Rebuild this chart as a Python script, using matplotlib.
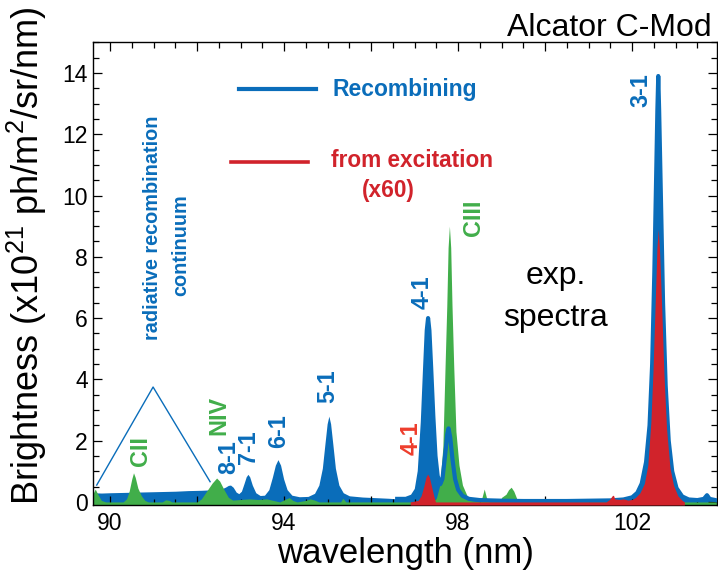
import matplotlib
matplotlib.use("Agg")
import matplotlib.pyplot as plt
from matplotlib.lines import Line2D
from matplotlib.ticker import MultipleLocator, FuncFormatter
import numpy as np

plt.rcParams['font.family'] = ['Liberation Sans', 'DejaVu Sans']
plt.rcParams['mathtext.fontset'] = 'custom'
plt.rcParams['mathtext.rm'] = 'Liberation Sans'
plt.rcParams['mathtext.it'] = 'Liberation Sans:italic'
plt.rcParams['mathtext.bf'] = 'Liberation Sans:bold'

# ---------------- data ----------------
wl_blue = [89.62, 89.80, 90.00, 90.30, 90.60, 90.90, 91.20, 91.50, 91.80, 92.10,
           92.40, 92.55, 92.65, 92.72, 92.77, 92.83, 92.90, 92.96, 93.02, 93.08,
           93.13, 93.17, 93.21, 93.27, 93.35, 93.45, 93.55, 93.65, 93.73, 93.80,
           93.86, 93.92, 93.99, 94.07, 94.18, 94.35, 94.55, 94.70, 94.80, 94.88,
           94.94, 94.99, 95.03, 95.07, 95.12, 95.18, 95.26, 95.36, 95.50, 95.80,
           96.10, 96.40, 96.60, 96.80, 96.95, 97.05, 97.12, 97.19, 97.24, 97.28,
           97.31, 97.34, 97.38, 97.43, 97.48, 97.53, 97.59, 97.64, 97.70, 97.75,
           97.78, 97.82, 97.87, 97.93, 98.00, 98.10, 98.25, 98.50, 99.00, 99.50,
           100.00, 100.50, 101.00, 101.50, 101.80, 102.00, 102.12, 102.22, 102.32, 102.40,
           102.46, 102.51, 102.55, 102.58, 102.60, 102.62, 102.66, 102.71, 102.77, 102.84,
           102.92, 103.02, 103.15, 103.30, 103.50, 103.65, 103.72, 103.78, 103.95]
br_blue = [0.30, 0.29, 0.30, 0.31, 0.32, 0.33, 0.34, 0.35, 0.37, 0.38,
           0.40, 0.42, 0.48, 0.54, 0.55, 0.48, 0.32, 0.27, 0.35, 0.60,
           0.82, 0.90, 0.82, 0.55, 0.30, 0.21, 0.22, 0.40, 0.80, 1.20,
           1.38, 1.20, 0.75, 0.40, 0.22, 0.17, 0.18, 0.28, 0.55, 1.10,
           1.90, 2.55, 2.80, 2.55, 1.90, 1.10, 0.55, 0.30, 0.20, 0.16,
           0.14, 0.12, 0.10, 0.10, 0.18, 0.40, 1.00, 2.60, 4.30, 5.60,
           6.00, 5.60, 4.40, 2.80, 1.50, 0.85, 0.58, 0.75, 1.50, 2.20,
           2.40, 2.10, 1.40, 0.75, 0.40, 0.20, 0.10, 0.06, 0.04, 0.03,
           0.03, 0.03, 0.04, 0.05, 0.08, 0.15, 0.30, 0.60, 1.30, 2.50,
           4.50, 7.50, 10.5, 12.8, 13.9, 12.8, 10.0, 6.50, 3.80, 2.00,
           1.00, 0.45, 0.18, 0.08, 0.06, 0.10, 0.22, 0.10, 0.05]

wl_green = [89.62, 89.66, 89.72, 89.80, 89.90, 90.30, 90.38, 90.44, 90.50, 90.54,
            90.58, 90.64, 90.72, 90.80, 90.88, 91.20, 91.28, 91.36, 91.42, 92.00,
            92.10, 92.22, 92.35, 92.45, 92.52, 92.62, 92.72, 92.82, 93.00, 93.20,
            93.40, 93.60, 93.75, 93.90, 94.05, 94.12, 94.20, 94.30, 94.50, 94.60,
            94.70, 94.80, 95.30, 95.35, 95.42, 96.00, 97.40, 97.50, 97.58, 97.65,
            97.70, 97.74, 97.77, 97.80, 97.83, 97.86, 97.90, 97.95, 98.02, 98.10,
            98.20, 98.28, 98.50, 98.55, 98.60, 98.65, 98.70, 98.95, 99.00, 99.10,
            99.16, 99.22, 99.28, 99.35, 99.40, 103.95]
br_green = [0.30, 0.42, 0.25, 0.05, 0.00, 0.00, 0.10, 0.35, 0.75, 0.95,
            0.80, 0.45, 0.20, 0.05, 0.00, 0.00, 0.07, 0.05, 0.00, 0.00,
            0.10, 0.35, 0.62, 0.78, 0.68, 0.40, 0.15, 0.06, 0.08, 0.10,
            0.08, 0.10, 0.05, 0.00, 0.10, 0.14, 0.05, 0.00, 0.05, 0.10,
            0.06, 0.00, 0.00, 0.12, 0.00, 0.00, 0.00, 0.12, 0.55, 1.80,
            4.40, 6.40, 8.30, 9.00, 8.30, 6.40, 4.40, 2.30, 1.20, 0.55,
            0.22, 0.05, 0.00, 0.15, 0.42, 0.15, 0.00, 0.00, 0.15, 0.25,
            0.40, 0.48, 0.35, 0.10, 0.00, 0.00]

wl_red = [96.90, 97.08, 97.15, 97.21, 97.26, 97.30, 97.34, 97.39, 97.44, 97.48,
          101.40, 101.48, 101.54, 101.57, 101.60, 101.70, 101.80, 101.90, 102.00, 102.08,
          102.18, 102.28, 102.36, 102.43, 102.48, 102.53, 102.57, 102.60, 102.63, 102.68,
          102.73, 102.79, 102.87, 102.95, 103.05, 103.15, 103.20]
br_red = [0.00, 0.05, 0.20, 0.50, 0.80, 0.91, 0.80, 0.50, 0.20, 0.00,
          0.00, 0.08, 0.20, 0.22, 0.10, 0.08, 0.10, 0.06, 0.08, 0.15,
          0.30, 0.60, 1.20, 2.60, 4.30, 6.50, 8.30, 8.90, 8.20, 6.30,
          4.20, 2.40, 1.10, 0.55, 0.20, 0.05, 0.00]

line_start = 96.6          # the blue outline is drawn from here on
x_ticks_labeled = [90, 94, 98, 102]
triangle_wl = [89.695, 90.99, 92.30]
triangle_br = [0.55, 3.75, 0.66]

# ---------------- style ----------------
BLUE = '#0A6DBA'
GREEN = '#41AE4A'
RED = '#D1232B'
RED_LABEL = '#EE3D2C'

W, H = 718, 572
fig = plt.figure(figsize=(W / 100, H / 100), dpi=100)
ax = fig.add_axes([93.3 / W, 1 - 505 / H, (717 - 93.3) / W, (505 - 42.3) / H])
ax.set_xlim(89.616, 103.95)
ax.set_ylim(-0.1, 15)
y0 = ax.get_ylim()[0]

wl_b = np.array(wl_blue); br_b = np.array(br_blue)
ax.fill_between(wl_b, br_b, y0, color=BLUE, lw=0, zorder=1)
ax.fill_between(wl_green, br_green, y0, color=GREEN, lw=0, zorder=2)
m = wl_b >= line_start
ax.plot(wl_b[m], br_b[m], color=BLUE, lw=3.0, zorder=3, solid_joinstyle='round')
ax.fill_between(wl_red, br_red, y0, color=RED, lw=0, zorder=4)
ax.plot(triangle_wl, triangle_br, color=BLUE, lw=1.0, zorder=5)

# ticks
ax.xaxis.set_major_locator(MultipleLocator(2))
ax.xaxis.set_minor_locator(MultipleLocator(0.5))
ax.xaxis.set_major_formatter(FuncFormatter(
    lambda v, p: f"{v:.0f}" if round(v) in x_ticks_labeled else ""))
ax.yaxis.set_major_locator(MultipleLocator(2))
ax.yaxis.set_minor_locator(MultipleLocator(0.5))
ax.tick_params(which='both', direction='in', top=True, right=True, width=0.9,
               labelsize=16.5, colors='black')
ax.tick_params(which='major', length=6.5)
ax.tick_params(which='minor', length=4.0)
ax.tick_params(axis='x', pad=5)
ax.tick_params(axis='y', pad=4)
for s in ax.spines.values():
    s.set_linewidth(1.0)


def P(x, y):
    return (x / W, 1 - y / H)


# axis labels
fig.text(*P(405, 553), 'wavelength (nm)', fontsize=25, ha='center', va='center')
fig.text(*P(27, 256), 'Brightness (x10$^{21}$ ph/m$^2$/sr/nm)', fontsize=26,
         rotation=90, ha='center', va='center')
fig.text(*P(712, 36.5), 'Alcator C-Mod', fontsize=23, ha='right', va='baseline')

# legend-like annotations
fig.add_artist(Line2D([239 / W, 316 / W], [1 - 89 / H, 1 - 89 / H], color=BLUE, lw=3.0))
fig.add_artist(Line2D([231 / W, 308 / W], [1 - 162 / H, 1 - 162 / H], color=RED, lw=2.6))
fig.text(*P(332, 89.5), 'Recombining', fontsize=16.5, fontweight='bold', color=BLUE,
         ha='left', va='center')
fig.text(*P(331, 167), 'from excitation', fontsize=16.3, fontweight='bold', color=RED,
         ha='left', va='baseline')
fig.text(*P(388, 197), '(x60)', fontsize=16.3, fontweight='bold', color=RED,
         ha='center', va='baseline')

# continuum label
fig.text(*P(152, 228), 'radiative recombination', fontsize=14.3, fontweight='bold',
         color=BLUE, rotation=90, ha='center', va='center')
fig.text(*P(181, 245), 'continuum', fontsize=14.3, fontweight='bold',
         color=BLUE, rotation=90, ha='center', va='center')

# peak labels
peak_labels = [
    ('CII', 141, 451, GREEN),
    ('NIV', 219, 415, GREEN),
    ('8-1', 229, 457, BLUE),
    ('7-1', 249, 447, BLUE),
    ('6-1', 279, 431, BLUE),
    ('5-1', 328, 386, BLUE),
    ('4-1', 411, 438, RED_LABEL),
    ('4-1', 422, 292, BLUE),
    ('CIII', 473, 218, GREEN),
    ('3-1', 641, 90, BLUE),
]
for t, x, y, c in peak_labels:
    fig.text(*P(x, y), t, fontsize=16.8, fontweight='bold', color=c,
             rotation=90, ha='center', va='center')

fig.text(*P(556, 284), 'exp.', fontsize=23, ha='center', va='baseline')
fig.text(*P(556, 326), 'spectra', fontsize=23, ha='center', va='baseline')

fig.savefig('out.png', dpi=100)
